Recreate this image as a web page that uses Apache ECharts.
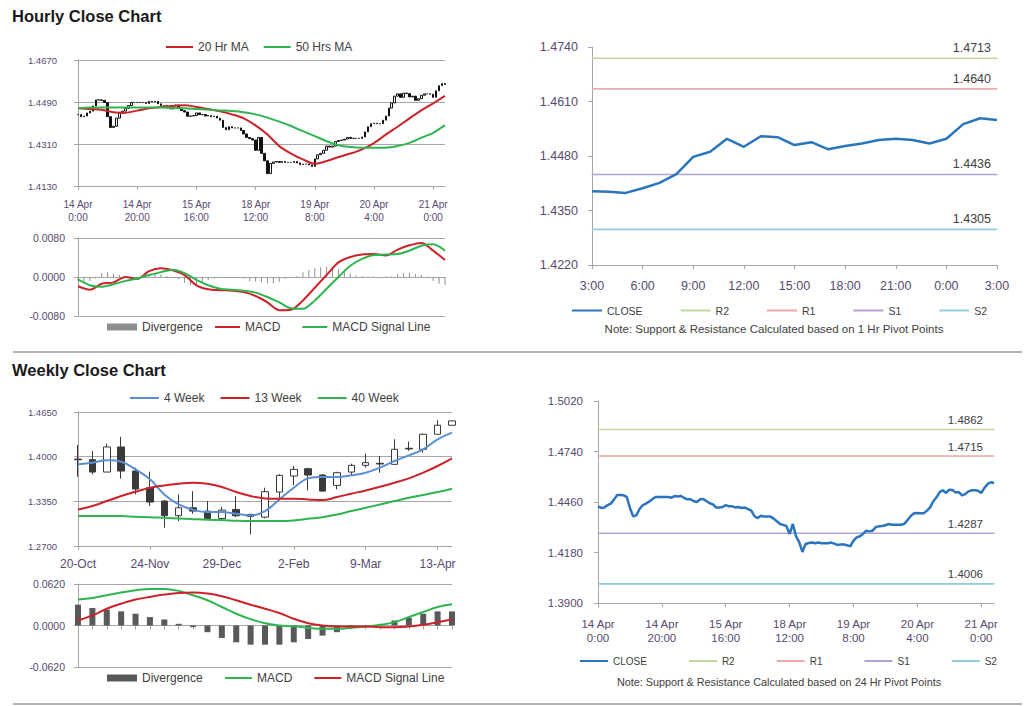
<!DOCTYPE html>
<html><head><meta charset="utf-8">
<script src="https://cdn.jsdelivr.net/npm/echarts@6/dist/echarts.min.js"></script>
<style>html,body{margin:0;padding:0;background:#fff}#c{width:1024px;height:706px}</style>
</head><body><div id="c"></div>
<script>
// ---------- Hourly data (14 Apr 0:00 .. 21 Apr 4:00, trading hours) ----------
const hourTicks = ['14 Apr\n0:00','14 Apr\n20:00','15 Apr\n16:00','18 Apr\n12:00','19 Apr\n8:00','20 Apr\n4:00','21 Apr\n0:00'];
const hourlyClose = [
 1.4436,1.4427,1.4430,1.4443,1.4451,1.4473,1.4499,1.4499,1.4497,1.4488,
 1.4427,1.4381,1.4386,1.4421,1.4442,1.4451,1.4462,1.4475,1.4488,1.4488,
 1.4488,1.4488,1.4488,1.4484,1.4493,1.4491,1.4493,1.4482,1.4475,1.4475,
 1.4464,1.4460,1.4475,1.4477,1.4464,1.4453,1.4447,1.4429,1.4430,1.4432,
 1.4443,1.4436,1.4436,1.4430,1.4432,1.4427,1.4429,1.4421,1.4412,1.4381,
 1.4371,1.4384,1.4379,1.4379,1.4379,1.4368,1.4353,1.4338,1.4333,1.4327,
 1.4283,1.4338,1.4270,1.4238,1.4183,1.4227,1.4233,1.4235,1.4231,1.4235,
 1.4231,1.4231,1.4231,1.4235,1.4229,1.4222,1.4224,1.4224,1.4220,1.4214,
 1.4246,1.4264,1.4270,1.4283,1.4301,1.4297,1.4301,1.4321,1.4325,1.4327,
 1.4331,1.4338,1.4334,1.4334,1.4334,1.4334,1.4340,1.4362,1.4384,1.4397,
 1.4399,1.4397,1.4397,1.4412,1.4430,1.4464,1.4486,1.4515,1.4525,1.4510,
 1.4528,1.4526,1.4512,1.4515,1.4497,1.4504,1.4519,1.4525,1.4525,1.4523,
 1.4510,1.4538,1.4560,1.4569,1.4565];
// moving averages / MACD read every 4 hours
const ma20 = [1.4463,1.4460,1.4457,1.4446,1.4444,1.4453,1.4463,1.4469,1.4473,1.4476,1.4469,1.4460,1.4450,1.4437,1.4420,1.4390,1.4351,1.4301,1.4269,1.4244,1.4225,1.4237,1.4254,1.4269,1.4287,1.4314,1.4350,1.4384,1.4420,1.4454,1.4484,1.4516];
const ma50 = [1.4463,1.4466,1.4466,1.4466,1.4466,1.4466,1.4466,1.4466,1.4464,1.4463,1.4460,1.4457,1.4454,1.4451,1.4446,1.4437,1.4423,1.4406,1.4387,1.4365,1.4344,1.4322,1.4305,1.4297,1.4294,1.4294,1.4294,1.4301,1.4315,1.4337,1.4358,1.4391];
const hMacd = [-0.0019,-0.0026,-0.0014,-0.0011,0.0000,-0.0004,0.0012,0.0018,0.0014,0.0004,-0.0017,-0.0025,-0.0027,-0.0028,-0.0031,-0.0039,-0.0052,-0.0068,-0.0067,-0.0048,-0.0022,0.0004,0.0030,0.0041,0.0046,0.0047,0.0044,0.0056,0.0065,0.0070,0.0054,0.0035];
const hSignal = [-0.0005,-0.0017,-0.0020,-0.0015,-0.0008,-0.0003,0.0004,0.0010,0.0015,0.0008,-0.0006,-0.0017,-0.0024,-0.0026,-0.0028,-0.0032,-0.0041,-0.0052,-0.0064,-0.0065,-0.0048,-0.0024,0.0000,0.0023,0.0037,0.0045,0.0046,0.0047,0.0054,0.0064,0.0067,0.0054];
// divergence read every 2 hours
const hDiv = [-0.0008,-0.0010,-0.0008,-0.0003,0.0008,0.0010,0.0006,0.0004,0.0002,0.0001,0.0000,0.0003,0.0006,0.0007,0.0005,0.0002,-0.0002,-0.0004,-0.0012,-0.0017,-0.0015,-0.0010,-0.0006,-0.0003,-0.0002,-0.0002,-0.0001,-0.0002,-0.0003,-0.0008,-0.0009,-0.0011,-0.0013,-0.0013,-0.0010,-0.0004,-0.0001,0.0002,0.0010,0.0014,0.0018,0.0020,0.0021,0.0020,0.0016,0.0012,0.0007,0.0003,0.0002,0.0001,0.0001,0.0000,0.0001,0.0001,0.0006,0.0008,0.0008,0.0006,0.0004,0.0001,-0.0008,-0.0014,-0.0016];

// ---------- Last 24 hours ----------
const dayHours = ['3:00','4:00','5:00','6:00','7:00','8:00','9:00','10:00','11:00','12:00','13:00','14:00','15:00','16:00','17:00','18:00','19:00','20:00','21:00','22:00','23:00','0:00','1:00','2:00','3:00'];
const dayClose = [1.4396,1.4395,1.4392,1.4403,1.4416,1.4437,1.4478,1.4490,1.4521,1.4502,1.4527,1.4525,1.4506,1.4513,1.4496,1.4504,1.4510,1.4518,1.4521,1.4518,1.4510,1.4521,1.4556,1.4570,1.4566];
const srNames = ['R2','R1','S1','S2'];
const srColors = ['#c3d69b','#eeaaaa','#b3a2d3','#93cddd'];
const sr1h = [1.4713,1.4640,1.4436,1.4305];
const sr24h = [1.4862,1.4715,1.4287,1.4006];

// ---------- Weekly data ----------
const weeks = ['20-Oct','27-Oct','3-Nov','10-Nov','17-Nov','24-Nov','1-Dec','8-Dec','15-Dec','22-Dec','29-Dec','5-Jan','12-Jan','19-Jan','26-Jan','2-Feb','9-Feb','16-Feb','23-Feb','2-Mar','9-Mar','16-Mar','23-Mar','30-Mar','6-Apr','13-Apr','20-Apr'];
const wOpen  = [1.3965,1.3956,1.3776,1.4141,1.3791,1.3548,1.3354,1.3140,1.3256,1.3208,1.3101,1.3232,1.3159,1.3120,1.3485,1.3718,1.3825,1.3733,1.3582,1.3776,1.3874,1.3903,1.3888,1.4122,1.4107,1.4326,1.4457];
const wClose = [1.3955,1.3776,1.4141,1.3791,1.3529,1.3339,1.3140,1.3256,1.3208,1.3101,1.3222,1.3140,1.3130,1.3490,1.3728,1.3815,1.3733,1.3499,1.3767,1.3874,1.3913,1.3893,1.4107,1.4112,1.4326,1.4457,1.4520];
const wLow   = [1.3708,1.3742,1.3776,1.3679,1.3451,1.3281,1.2965,1.3062,1.3169,1.3101,1.3062,1.3120,1.2868,1.3101,1.3402,1.3582,1.3509,1.3490,1.3524,1.3718,1.3840,1.3767,1.3888,1.4083,1.4058,1.4326,1.4457];
const wHigh  = [1.4170,1.4083,1.4190,1.4287,1.3840,1.3781,1.3368,1.3451,1.3499,1.3354,1.3271,1.3427,1.3169,1.3548,1.3745,1.3864,1.3840,1.3745,1.3780,1.3898,1.4044,1.4010,1.4253,1.4219,1.4336,1.4530,1.4525];
const w4  = [1.3888,1.3913,1.3947,1.3927,1.3815,1.3670,1.3451,1.3305,1.3227,1.3193,1.3193,1.3169,1.3145,1.3208,1.3378,1.3548,1.3684,1.3704,1.3704,1.3728,1.3767,1.3840,1.3937,1.4019,1.4107,1.4253,1.4350];
const w13 = [1.3232,1.3281,1.3354,1.3427,1.3490,1.3548,1.3582,1.3606,1.3621,1.3606,1.3558,1.3485,1.3427,1.3393,1.3388,1.3388,1.3378,1.3368,1.3412,1.3461,1.3509,1.3563,1.3621,1.3684,1.3767,1.3864,1.3976];
const w40 = [1.3135,1.3135,1.3135,1.3135,1.3125,1.3120,1.3110,1.3101,1.3091,1.3082,1.3077,1.3067,1.3062,1.3062,1.3062,1.3072,1.3096,1.3120,1.3159,1.3208,1.3256,1.3305,1.3354,1.3402,1.3441,1.3485,1.3534];
const wDiv    = [0.0311,0.0261,0.0236,0.0211,0.0176,0.0126,0.0090,0.0025,-0.0025,-0.0100,-0.0186,-0.0251,-0.0286,-0.0286,-0.0286,-0.0251,-0.0201,-0.0151,-0.0100,-0.0035,0.0000,0.0010,0.0075,0.0115,0.0176,0.0211,0.0211];
const wMacd   = [0.0387,0.0412,0.0452,0.0492,0.0527,0.0547,0.0547,0.0517,0.0452,0.0377,0.0276,0.0176,0.0095,0.0035,0.0000,-0.0010,-0.0035,-0.0050,-0.0050,-0.0035,-0.0015,0.0010,0.0050,0.0126,0.0201,0.0276,0.0316];
const wSignal = [0.0075,0.0151,0.0251,0.0326,0.0387,0.0427,0.0462,0.0487,0.0492,0.0477,0.0437,0.0377,0.0311,0.0251,0.0186,0.0100,0.0035,0.0000,-0.0015,-0.0015,-0.0015,-0.0025,-0.0025,-0.0015,0.0010,0.0050,0.0090];

// ---------- Axis tick values ----------
const yTicksHour = [1.4130,1.4310,1.4490,1.4670];
const yTicksHourMacd = [-0.0080,0,0.0080];
const yTicksDay = [1.4220,1.4350,1.4480,1.4610,1.4740];
const yTicksWeek = [1.2700,1.3350,1.4000,1.4650];
const yTicksWeekMacd = [-0.0620,0,0.0620];
const yTicksBR = [1.3900,1.4180,1.4460,1.4740,1.5020];

// ---------- build ----------
const FONT = '"Liberation Sans", Arial, sans-serif';
const AX = '#a6a6a6';
const LBL = '#574a70';
const TXT = '#404040';
const RED = '#cc2229', GREEN = '#2fb54f', BLUE = '#2a75bd', WBLUE = '#5b8fd4';
const hourCats = hourlyClose.map((_, i) => String(i));
const ma_x = ma20.map((_, k) => k * 4);
const div_x = hDiv.map((_, k) => k * 2);
const Z = '\u200B';

function valAxis(gi, ticks, fs, margin, split) {
  return {
    gridIndex: gi, type: 'value', min: ticks[0], max: ticks[ticks.length - 1],
    axisLine: {show: true, onZero: false, lineStyle: {color: AX}},
    axisTick: {show: true, customValues: ticks, length: 4, lineStyle: {color: AX}},
    axisLabel: {customValues: ticks, formatter: v => v.toFixed(4), color: LBL, fontSize: fs, margin: margin, fontFamily: FONT},
    splitLine: {show: split, lineStyle: {color: AX, width: 1}}
  };
}
function catAxis(gi, data, interval, labelOpt) {
  return {
    gridIndex: gi, type: 'category', data: data, boundaryGap: false,
    axisLine: {show: true, lineStyle: {color: AX}},
    axisTick: {show: true, interval: interval, length: 4, lineStyle: {color: AX}},
    axisLabel: Object.assign({interval: interval, color: LBL, fontFamily: FONT}, labelOpt),
    splitLine: {show: false}
  };
}
function lg(left, top, data, iw, ih, gap, fs) {
  return {left, top, data, itemWidth: iw, itemHeight: ih, itemGap: gap, icon: 'rect', padding: 0,
    selectedMode: false, textStyle: {fontSize: fs, color: TXT, fontFamily: FONT}};
}
function lineS(name, xi, yi, data, color, width, smooth) {
  return {name, type: 'line', xAxisIndex: xi, yAxisIndex: yi, data, symbol: 'none', smooth: smooth || false,
    color, lineStyle: {color, width}, z: 3};
}
// support / resistance levels: a flat two-point line across the axis, labelled at its right end
function srSeries(suffix, xi, yi, values, lastIdx, fs, dx) {
  return srNames.map((n, k) => ({
    name: n + suffix, type: 'line', xAxisIndex: xi, yAxisIndex: yi, color: srColors[k],
    symbol: 'circle', symbolSize: 1, showSymbol: true, z: 2,
    lineStyle: {color: srColors[k], width: 1.6},
    itemStyle: {color: srColors[k]},
    data: [
      [0, values[k]],
      {value: [lastIdx, values[k]],
       label: {show: true, position: 'top', align: 'right', offset: [-dx, 0], distance: 3,
               formatter: () => values[k].toFixed(4), color: TXT, fontSize: fs, fontFamily: FONT}}
    ]
  }));
}

const hourLabelFmt = (v, i) => hourTicks[Math.round(i / 20)];

const option = {
  animation: false,
  textStyle: {fontFamily: FONT},
  grid: [
    {left: 78, top: 60, width: 367, height: 126},
    {left: 78, top: 238, width: 367, height: 78},
    {left: 592, top: 47, width: 405, height: 218},
    {left: 78, top: 412, width: 374, height: 134},
    {left: 78, top: 584, width: 374, height: 83},
    {left: 598, top: 401, width: 396, height: 202}
  ],
  xAxis: [
    catAxis(0, hourCats, 19, {formatter: hourLabelFmt, fontSize: 10, lineHeight: 13, margin: 12}),
    {gridIndex: 0, type: 'value', min: 0, max: hourlyClose.length - 1, show: false, splitLine: {show: false}},
    {gridIndex: 1, type: 'value', min: 0, max: hourlyClose.length - 1,
      axisLine: {show: true, onZero: true, lineStyle: {color: AX}}, axisTick: {show: false}, axisLabel: {show: false}, splitLine: {show: false}},
    catAxis(2, dayHours, 2, {fontSize: 12.5, margin: 14}),
    catAxis(3, weeks, 4, {fontSize: 12, margin: 12}),
    Object.assign(catAxis(4, weeks, 0, {show: false}), {axisLine: {show: true, onZero: true, lineStyle: {color: AX}}}),
    catAxis(5, hourCats, 19, {formatter: hourLabelFmt, fontSize: 11.5, lineHeight: 14, margin: 14})
  ],
  yAxis: [
    valAxis(0, yTicksHour, 9.5, 21, true),
    valAxis(1, yTicksHourMacd, 10.5, 13, true),
    valAxis(2, yTicksDay, 12.5, 14, false),
    valAxis(3, yTicksWeek, 9.5, 21, true),
    valAxis(4, yTicksWeekMacd, 10.5, 13, true),
    valAxis(5, yTicksBR, 11.5, 15, false)
  ],
  legend: [
    lg(166, 41, ['20 Hr MA', '50 Hrs MA'], 27, 2, 15, 12),
    lg(107, 321, ['Divergence'], 30, 7, 10, 12),
    lg(215, 321, ['MACD', 'MACD Signal Line'], 25, 2, 22, 12),
    lg(572, 305, ['CLOSE', 'R2', 'R1', 'S1', 'S2'], 30, 2, 38, 10.5),
    lg(130, 392, ['4 Week', '13 Week', '40 Week'], 29, 2, 16, 12),
    lg(107, 672, ['Divergence' + Z], 30, 7, 10, 12),
    lg(225, 672, ['MACD' + Z, 'MACD Signal Line' + Z], 27, 2, 22, 12),
    lg(580, 656, ['CLOSE' + Z, 'R2' + Z, 'R1' + Z, 'S1' + Z, 'S2' + Z], 28, 2, 42, 10)
  ],
  series: [
    {name: 'hourly', type: 'candlestick', xAxisIndex: 0, yAxisIndex: 0, barWidth: 2,
      data: hourlyClose.map((c, i) => { const o = i ? hourlyClose[i - 1] : c; return [o, c, Math.min(o, c), Math.max(o, c)]; }),
      itemStyle: {color: '#ffffff', color0: '#111', borderColor: '#111', borderColor0: '#111', borderWidth: 1}},
    lineS('20 Hr MA', 1, 0, ma_x.map((x, k) => [x, ma20[k]]), RED, 2, 0.3),
    lineS('50 Hrs MA', 1, 0, ma_x.map((x, k) => [x, ma50[k]]), GREEN, 2, 0.3),
    {name: 'Divergence', type: 'bar', xAxisIndex: 2, yAxisIndex: 1, barWidth: 1, color: '#8f8f8f',
      data: div_x.map((x, k) => [x, hDiv[k]])},
    lineS('MACD', 2, 1, ma_x.map((x, k) => [x, hMacd[k]]), RED, 2, 0.3),
    lineS('MACD Signal Line', 2, 1, ma_x.map((x, k) => [x, hSignal[k]]), GREEN, 2, 0.3),
    lineS('CLOSE', 3, 2, dayClose, BLUE, 2.5, false),
    ...srSeries('', 3, 2, sr1h, dayHours.length - 1, 12.5, 6),
    {name: 'weekly', type: 'candlestick', xAxisIndex: 4, yAxisIndex: 3, barWidth: 7,
      data: weeks.map((w, i) => [wOpen[i], wClose[i], wLow[i], wHigh[i]]),
      itemStyle: {color: '#ffffff', color0: '#3a3a3a', borderColor: '#3a3a3a', borderColor0: '#3a3a3a', borderWidth: 1}},
    lineS('4 Week', 4, 3, w4, WBLUE, 2, 0.4),
    lineS('13 Week', 4, 3, w13, RED, 2, 0.4),
    lineS('40 Week', 4, 3, w40, GREEN, 2, 0.4),
    {name: 'Divergence' + Z, type: 'bar', xAxisIndex: 5, yAxisIndex: 4, barWidth: 6, color: '#595959', data: wDiv},
    lineS('MACD' + Z, 5, 4, wMacd, GREEN, 2, 0.4),
    lineS('MACD Signal Line' + Z, 5, 4, wSignal, RED, 2, 0.4),
    lineS('CLOSE' + Z, 6, 5, hourlyClose, BLUE, 2.5, false),
    ...srSeries(Z, 6, 5, sr24h, hourlyClose.length - 1, 11.5, 11)
  ],
  graphic: [
    {type: 'text', x: 12, y: 16, style: {text: 'Hourly Close Chart', font: 'bold 16.5px "Liberation Sans", Arial', fill: '#1a1a1a', align: 'left', verticalAlign: 'middle'}},
    {type: 'text', x: 12, y: 370, style: {text: 'Weekly Close Chart', font: 'bold 16.5px "Liberation Sans", Arial', fill: '#1a1a1a', align: 'left', verticalAlign: 'middle'}},
    {type: 'line', shape: {x1: 13, y1: 352, x2: 1022, y2: 352}, style: {stroke: '#999', lineWidth: 1.5}},
    {type: 'line', shape: {x1: 13, y1: 704, x2: 1022, y2: 704}, style: {stroke: '#999', lineWidth: 1.5}},
    {type: 'text', x: 774, y: 329, style: {text: 'Note: Support & Resistance Calculated based on 1 Hr Pivot Points', font: '11.5px "Liberation Sans", Arial', fill: TXT, align: 'center', verticalAlign: 'middle'}},
    {type: 'text', x: 779, y: 682, style: {text: 'Note: Support & Resistance Calculated based on 24 Hr Pivot Points', font: '10.8px "Liberation Sans", Arial', fill: TXT, align: 'center', verticalAlign: 'middle'}}
  ]
};
const chart = echarts.init(document.getElementById('c'), null, {renderer: 'svg'});
chart.setOption(option);
</script>
</body></html>
